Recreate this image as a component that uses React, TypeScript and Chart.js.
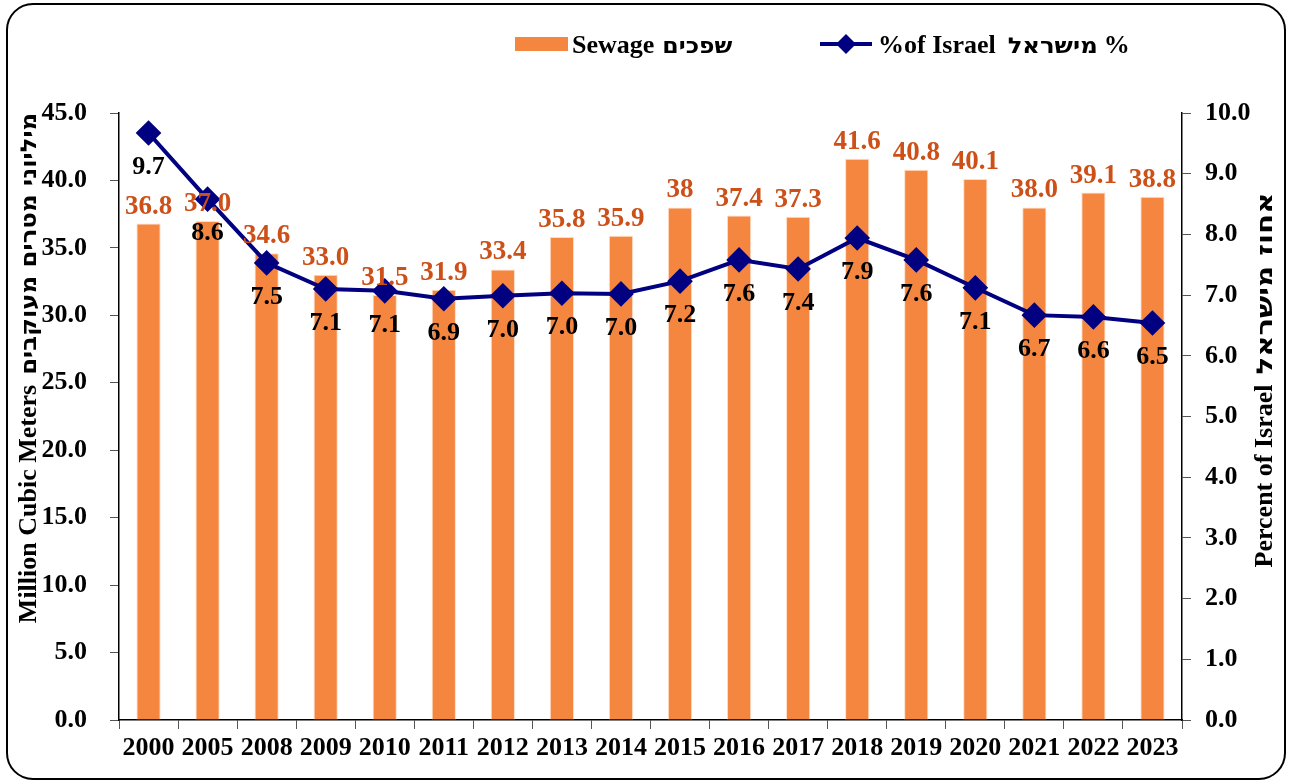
import { useEffect, useRef } from 'react';
import { Chart, registerables } from 'chart.js';

Chart.register(...registerables);

const years = ['2000', '2005', '2008', '2009', '2010', '2011', '2012', '2013', '2014', '2015', '2016', '2017', '2018', '2019', '2020', '2021', '2022', '2023'];
const sewage = [36.8, 37.0, 34.6, 33.0, 31.5, 31.9, 33.4, 35.8, 35.9, 38, 37.4, 37.3, 41.6, 40.8, 40.1, 38.0, 39.1, 38.8];
const sewageLabels = ['36.8', '37.0', '34.6', '33.0', '31.5', '31.9', '33.4', '35.8', '35.9', '38', '37.4', '37.3', '41.6', '40.8', '40.1', '38.0', '39.1', '38.8'];
const percentIsrael = [9.67, 8.58, 7.53, 7.1, 7.07, 6.94, 6.99, 7.03, 7.02, 7.23, 7.58, 7.43, 7.94, 7.58, 7.12, 6.67, 6.64, 6.54];

const leftTicks = [0, 5, 10, 15, 20, 25, 30, 35, 40, 45];
const rightTicks = [0, 1, 2, 3, 4, 5, 6, 7, 8, 9, 10];

const sewageLegendEn = 'Sewage';
const sewageLegendHe = 'שפכים';
const percentLegendEn = '%of Israel';
const percentLegendHe = 'מישראל';
const leftTitleEn = 'Million Cubic Meters';
const leftTitleHe = 'מיליוני מטרים מעוקבים';
const rightTitleEn = 'Percent of Israel';
const rightTitleHe = 'אחוז מישראל';

const FONT = "'Liberation Serif', 'Times New Roman', serif";
const HE_FONT = "'DejaVu Sans', 'Liberation Sans', sans-serif";
const BAR_COLOR = '#F5863F';
const BAR_LABEL_COLOR = '#CC5018';
const LINE_COLOR = '#000080';

type Seg = { text: string; font: string; width?: number; gap?: number };

function segWidth(ctx: CanvasRenderingContext2D, s: Seg) {
  ctx.font = s.font;
  return s.width ?? ctx.measureText(s.text).width;
}

// draw segments left-to-right starting at x (baseline middle at y)
function drawSegs(ctx: CanvasRenderingContext2D, segs: Seg[], x: number, y: number, align: 'left' | 'center') {
  const total = segs.reduce((a, s) => a + segWidth(ctx, s) + (s.gap ?? 0), 0);
  let cx = align === 'center' ? x - total / 2 : x;
  ctx.textAlign = 'left';
  ctx.textBaseline = 'alphabetic';
  for (const s of segs) {
    ctx.font = s.font;
    const mw = ctx.measureText(s.text).width;
    const w = s.width ?? mw;
    ctx.save();
    ctx.translate(cx, y);
    ctx.scale(w / mw, 1);
    ctx.fillText(s.text, 0, 0);
    ctx.restore();
    cx += w + (s.gap ?? 0);
  }
}

const decorPlugin = {
  id: 'decor',
  beforeDraw(chart: any) {
    const ctx = chart.ctx;
    ctx.save();
    ctx.fillStyle = '#ffffff';
    ctx.fillRect(0, 0, chart.width, chart.height);
    ctx.beginPath();
    ctx.lineWidth = 2;
    ctx.strokeStyle = '#000000';
    ctx.roundRect(7, 4, 1278, 775, 26);
    ctx.stroke();
    ctx.restore();
  },
  afterDatasetsDraw(chart: any) {
    const ctx = chart.ctx;
    ctx.save();
    ctx.textAlign = 'center';
    ctx.textBaseline = 'alphabetic';
    const barMeta = chart.getDatasetMeta(1);
    ctx.font = `bold 27px ${FONT}`;
    ctx.fillStyle = BAR_LABEL_COLOR;
    barMeta.data.forEach((el: any, i: number) => {
      ctx.fillText(sewageLabels[i], el.x, el.y - 10);
    });
    const lineMeta = chart.getDatasetMeta(0);
    ctx.font = `bold 26px ${FONT}`;
    ctx.fillStyle = '#000000';
    lineMeta.data.forEach((el: any, i: number) => {
      ctx.fillText(percentIsrael[i].toFixed(1), el.x, el.y + 41);
    });
    ctx.restore();
  },
  afterDraw(chart: any) {
    const ctx = chart.ctx;
    ctx.save();
    const en = `bold 26px ${FONT}`;
    const he = `bold 22px ${HE_FONT}`;
    // legend: bars
    ctx.fillStyle = BAR_COLOR;
    ctx.fillRect(515, 37, 53, 14);
    ctx.fillStyle = '#000000';
    drawSegs(ctx, [
      { text: sewageLegendEn, font: en, gap: 8 },
      { text: sewageLegendHe, font: he, width: 70 },
    ], 572, 53, 'left');
    // legend: line
    ctx.strokeStyle = LINE_COLOR;
    ctx.lineWidth = 4;
    ctx.beginPath();
    ctx.moveTo(820, 44);
    ctx.lineTo(872, 44);
    ctx.stroke();
    ctx.fillStyle = LINE_COLOR;
    ctx.beginPath();
    ctx.moveTo(846, 34);
    ctx.lineTo(856, 44);
    ctx.lineTo(846, 54);
    ctx.lineTo(836, 44);
    ctx.closePath();
    ctx.fill();
    ctx.fillStyle = '#000000';
    drawSegs(ctx, [
      { text: percentLegendEn, font: en, gap: 12 },
      { text: percentLegendHe, font: he, width: 90, gap: 6 },
      { text: '%', font: en },
    ], 878, 53, 'left');
    // axis titles
    ctx.save();
    ctx.translate(36, 368);
    ctx.rotate(-Math.PI / 2);
    drawSegs(ctx, [
      { text: leftTitleEn, font: en, gap: 10 },
      { text: leftTitleHe, font: he, width: 262 },
    ], 0, 0, 'center');
    ctx.restore();
    ctx.save();
    ctx.translate(1272, 380);
    ctx.rotate(-Math.PI / 2);
    drawSegs(ctx, [
      { text: rightTitleEn, font: en, gap: 10 },
      { text: rightTitleHe, font: he, width: 182 },
    ], 0, 0, 'center');
    ctx.restore();
    ctx.restore();
  },
};

export default function App() {
  const ref = useRef<HTMLCanvasElement | null>(null);
  useEffect(() => {
    document.body.style.margin = '0';
    if (!ref.current) return;
    const tickFont = { family: FONT, size: 26, weight: 'bold' as const };
    const chart = new Chart(ref.current, {
      type: 'bar',
      data: {
        labels: years,
        datasets: [
          {
            type: 'line' as const,
            label: percentLegendEn,
            data: percentIsrael,
            yAxisID: 'y1',
            borderColor: LINE_COLOR,
            backgroundColor: LINE_COLOR,
            borderWidth: 4,
            pointStyle: 'rectRot',
            pointRadius: 10,
            pointBackgroundColor: LINE_COLOR,
            pointBorderColor: LINE_COLOR,
            tension: 0,
            order: 0,
          },
          {
            type: 'bar' as const,
            label: sewageLegendEn,
            data: sewage,
            yAxisID: 'y',
            backgroundColor: BAR_COLOR,
            borderColor: 'rgba(255,215,190,0.9)',
            borderWidth: 1,
            barPercentage: 0.41,
            categoryPercentage: 1,
            order: 1,
          },
        ],
      },
      options: {
        responsive: false,
        animation: false,
        layout: { padding: { top: 113, left: 0, right: 0, bottom: 0 } },
        plugins: { legend: { display: false }, tooltip: { enabled: false }, title: { display: false } },
        scales: {
          x: {
            offset: true,
            grid: { display: true, drawOnChartArea: false, drawTicks: true, tickLength: 9, color: '#555555', offset: true },
            border: { display: true, color: '#000000', width: 1.5 },
            ticks: { color: '#000000', font: tickFont, padding: 4, maxRotation: 0, autoSkip: false },
            afterFit: (s: any) => { s.height = 62; },
          },
          y: {
            position: 'left',
            min: 0,
            max: 45,
            afterBuildTicks: (s: any) => { s.ticks = leftTicks.map((v) => ({ value: v })); },
            grid: { display: true, drawOnChartArea: false, drawTicks: true, tickLength: 9, color: '#555555' },
            border: { display: true, color: '#000000', width: 1.5 },
            ticks: { color: '#000000', font: tickFont, padding: 23, callback: (v: any) => Number(v).toFixed(1) },
            afterFit: (s: any) => { s.width = 119; },
          },
          y1: {
            position: 'right',
            min: 0,
            max: 10,
            afterBuildTicks: (s: any) => { s.ticks = rightTicks.map((v) => ({ value: v })); },
            grid: { display: true, drawOnChartArea: false, drawTicks: true, tickLength: 9, color: '#555555' },
            border: { display: true, color: '#000000', width: 1.5 },
            ticks: { color: '#000000', font: tickFont, padding: 14, callback: (v: any) => Number(v).toFixed(1) },
            afterFit: (s: any) => { s.width = 110; },
          },
        },
      },
      plugins: [decorPlugin],
    });
    return () => chart.destroy();
  }, []);
  return <canvas ref={ref} width={1292} height={782} style={{ display: 'block' }} />;
}
